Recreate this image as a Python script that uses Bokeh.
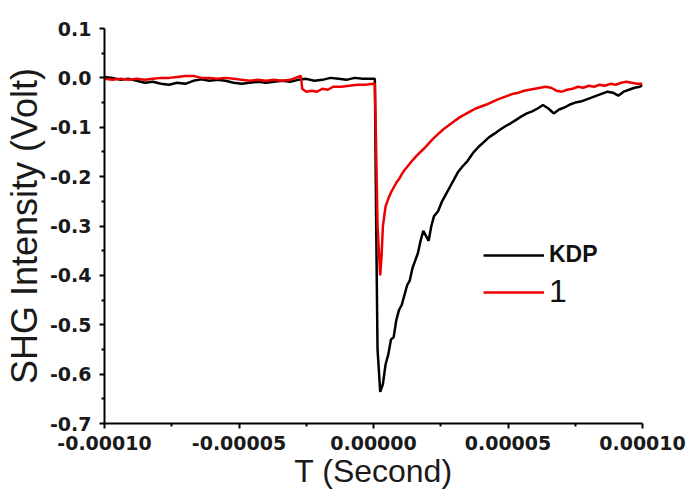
import numpy as np
from bokeh.plotting import figure
from bokeh.models import FixedTicker, Range1d, Legend, LegendItem
from bokeh.embed import file_html
from bokeh.resources import INLINE

# ---- data (time in microseconds, signal in volts) ----
kdp_t_us = [-100, -97, -94, -91, -88, -85, -82, -79, -76, -73, -70, -67, -64, -61, -58, -55,
            -52, -49, -46, -43, -40, -37, -34, -31, -28, -25, -22, -19, -16, -13, -10, -7, -4, -1,
            0.5, 1.0, 1.5, 2.5, 3.5, 4.5, 5.5, 6.5, 7.5, 8.5, 9.5, 10.5, 11.5, 12.5, 13.5, 14.5,
            15.5, 16.5, 17.5, 18.5, 19.5, 20.5, 21.5, 22.5, 24, 25.5, 27, 28.5, 30, 31.5, 33, 35,
            37, 39, 41, 43, 45, 47, 49, 51, 53, 55, 57, 59, 61, 63, 65, 67, 69, 71, 73, 75, 77,
            79, 81, 83, 85, 87, 89, 91, 93, 95, 97, 99, 100]
kdp_v = [0.002, 0.000, -0.004, -0.002, -0.006, -0.010, -0.008, -0.012, -0.014, -0.010, -0.012,
         -0.006, -0.003, -0.006, -0.004, -0.006, -0.010, -0.012, -0.010, -0.008, -0.010, -0.008,
         -0.006, -0.008, -0.004, -0.002, -0.006, -0.004, 0.000, -0.002, -0.004, 0.000, -0.002,
         -0.002, -0.002, -0.30, -0.55, -0.636, -0.62, -0.58, -0.56, -0.53, -0.525, -0.49, -0.47,
         -0.46, -0.44, -0.42, -0.41, -0.385, -0.37, -0.355, -0.33, -0.31, -0.32, -0.33, -0.30,
         -0.28, -0.27, -0.25, -0.235, -0.22, -0.205, -0.19, -0.18, -0.168, -0.152, -0.14, -0.13,
         -0.12, -0.113, -0.105, -0.098, -0.092, -0.085, -0.078, -0.072, -0.068, -0.062, -0.055,
         -0.062, -0.072, -0.064, -0.060, -0.054, -0.050, -0.048, -0.044, -0.040, -0.036, -0.032,
         -0.028, -0.030, -0.036, -0.028, -0.024, -0.020, -0.018, -0.015]

one_t_us = [-100, -97, -94, -91, -88, -85, -82, -79, -76, -73, -70, -67, -64, -61, -58, -55, -52,
            -49, -46, -43, -40, -37, -34, -31, -28, -27, -26.5, -25, -23, -21, -19, -17, -15, -12,
            -9, -6, -3, 0, 0.5, 1.0, 1.5, 2.5, 3.0, 3.5, 4.5, 5.5, 6.5, 7.5, 8.5, 9.5, 10.5, 11.5,
            13, 14.5, 16, 17.5, 19, 20.5, 22, 24, 26, 28, 30, 32, 34, 36, 38, 40, 42, 44, 46, 48,
            50, 52, 54, 56, 58, 60, 62, 64, 66, 68, 70, 72, 74, 76, 78, 80, 82, 84, 86, 88, 90,
            92, 94, 96, 98, 100]
one_v = [-0.002, -0.004, -0.002, -0.004, -0.002, -0.004, -0.002, 0.000, 0.000, 0.002, 0.004,
         0.004, 0.000, 0.000, -0.002, 0.000, -0.002, -0.004, -0.006, -0.004, -0.006, -0.004,
         -0.006, -0.004, 0.002, 0.004, -0.022, -0.028, -0.026, -0.028, -0.022, -0.024, -0.018,
         -0.018, -0.016, -0.014, -0.014, -0.012, -0.012, -0.15, -0.30, -0.40, -0.36, -0.30,
         -0.26, -0.245, -0.232, -0.222, -0.212, -0.205, -0.195, -0.187, -0.177, -0.167, -0.158,
         -0.150, -0.142, -0.133, -0.124, -0.114, -0.104, -0.096, -0.088, -0.080, -0.074, -0.068,
         -0.062, -0.058, -0.054, -0.049, -0.044, -0.040, -0.036, -0.032, -0.030, -0.026, -0.024,
         -0.022, -0.020, -0.018, -0.020, -0.026, -0.028, -0.024, -0.022, -0.018, -0.020, -0.016,
         -0.018, -0.014, -0.016, -0.012, -0.014, -0.010, -0.008, -0.010, -0.012, -0.012]

series_labels = ["KDP", "1"]

x_ticks = [-0.0001, -0.00005, 0.0, 0.00005, 0.0001]
x_tick_labels = ["-0.00010", "-0.00005", "0.00000", "0.00005", "0.00010"]
x_minor = [-0.000075, -0.000025, 0.000025, 0.000075]
y_ticks = [0.1, 0.0, -0.1, -0.2, -0.3, -0.4, -0.5, -0.6, -0.7]
y_tick_labels = ["0.1", "0.0", "-0.1", "-0.2", "-0.3", "-0.4", "-0.5", "-0.6", "-0.7"]
y_minor = [0.05, -0.05, -0.15, -0.25, -0.35, -0.45, -0.55, -0.65]

kdp_t = np.array(kdp_t_us) * 1e-6
one_t = np.array(one_t_us) * 1e-6

p = figure(width=690, height=493, output_backend="svg", toolbar_location=None,
           x_range=Range1d(-0.0001, 0.0001), y_range=Range1d(-0.7, 0.1),
           min_border_left=102, min_border_right=48, min_border_top=28, min_border_bottom=70)
p.xgrid.visible = False
p.ygrid.visible = False
p.outline_line_color = None
p.background_fill_color = "white"

r_kdp = p.line(kdp_t, kdp_v, line_color="black", line_width=2.5)
r_one = p.line(one_t, one_v, line_color="#ee0000", line_width=2.5)

for ax, ticks, labels, minor in ((p.xaxis[0], x_ticks, x_tick_labels, x_minor),
                                 (p.yaxis[0], y_ticks, y_tick_labels, y_minor)):
    ax.ticker = FixedTicker(ticks=ticks, minor_ticks=minor)
    ax.major_label_overrides = {t: l for t, l in zip(ticks, labels)}
    ax.axis_line_width = 2
    ax.major_tick_line_width = 2
    ax.minor_tick_line_width = 2
    ax.major_tick_in = 0
    ax.major_tick_out = 5
    ax.minor_tick_in = 0
    ax.minor_tick_out = 3
    ax.major_label_text_font = "DejaVu Sans"
    ax.major_label_text_font_style = "bold"
    ax.major_label_text_font_size = "19px"
    ax.major_label_text_color = "#1a1a1a"
    ax.axis_label_text_font = "Liberation Sans"
    ax.axis_label_text_font_style = "normal"
    ax.axis_label_text_color = "#1a1a1a"

p.xaxis.axis_label = "T (Second)"
p.xaxis.axis_label_text_font_size = "32px"
p.xaxis.axis_label_standoff = 0
p.xaxis.major_label_standoff = 7
p.yaxis.axis_label = "SHG Intensity (Volt)"
p.yaxis.axis_label_text_font_size = "36px"
p.yaxis.axis_label_standoff = 2
p.yaxis.major_label_standoff = 8

common = dict(border_line_color=None, background_fill_alpha=0, padding=0, margin=0,
              glyph_width=61, glyph_height=20, label_height=20, label_standoff=5, spacing=0,
              label_text_color="#111111")
leg1 = Legend(items=[LegendItem(label=series_labels[0], renderers=[r_kdp])], location=(379, 155),
              label_text_font="Liberation Sans", label_text_font_style="bold",
              label_text_font_size="23px", **common)
leg2 = Legend(items=[LegendItem(label=series_labels[1], renderers=[r_one])], location=(379, 113),
              label_text_font="Liberation Sans", label_text_font_size="32px", **common)
p.add_layout(leg1)
p.add_layout(leg2)

open("out.html", "w").write(file_html(p, INLINE))
